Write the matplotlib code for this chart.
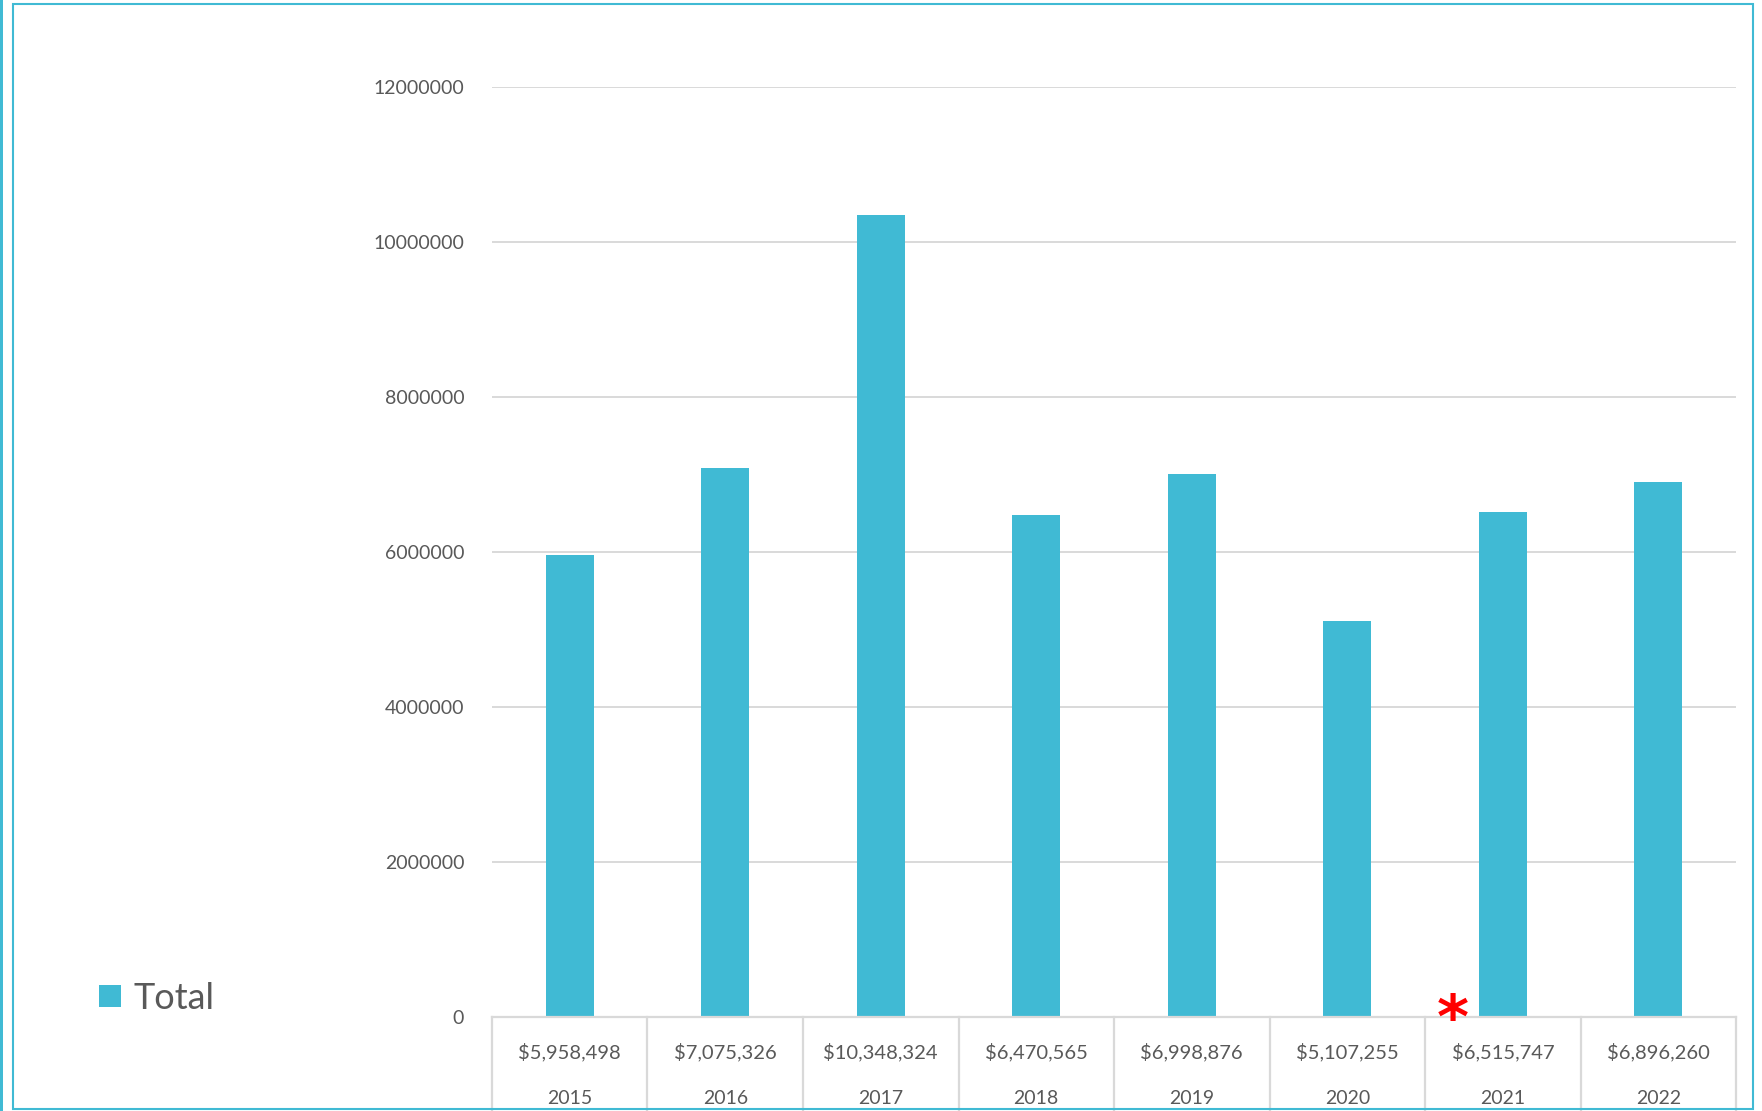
import matplotlib.pyplot as plt
from matplotlib.lines import Line2D
from matplotlib.patches import Rectangle
import matplotlib.transforms as mtransforms

plt.rcParams['font.family'] = ['Lato', 'DejaVu Sans']

# Data
years = ["2015", "2016", "2017", "2018", "2019", "2020", "2021", "2022"]
totals = [5958498, 7075326, 10348324, 6470565, 6998876, 5107255, 6515747, 6896260]
value_labels = ["$5,958,498", "$7,075,326", "$10,348,324", "$6,470,565",
                "$6,998,876", "$5,107,255", "$6,515,747", "$6,896,260"]
yticks = [0, 2000000, 4000000, 6000000, 8000000, 10000000, 12000000]

bar_color = "#40BAD4"
text_color = "#595959"
grid_color = "#D9D9D9"

fig = plt.figure(figsize=(17.62, 11.11), dpi=100)
ax = fig.add_axes([0.2792, 0.0846, 0.7061, 0.8374])

x = range(len(years))
bars = ax.bar(x, totals, width=0.31, color=bar_color, label="Total", zorder=3)

ax.set_xlim(-0.5, len(years) - 0.5)
ax.set_ylim(0, 12000000)
ax.set_yticks(yticks)
ax.set_yticklabels([str(v) for v in yticks])
ax.tick_params(axis="y", length=0, pad=20, labelsize=14, labelcolor=text_color)
ax.set_xticks([])
ax.grid(axis="y", color=grid_color, linewidth=1.4, zorder=0)
for s in ax.spines.values():
    s.set_visible(False)

# data table under the bars
trans = mtransforms.blended_transform_factory(ax.transData, fig.transFigure)
ax.axhline(0, color=grid_color, linewidth=1.6, zorder=4, clip_on=False)
for i in range(len(years) + 1):
    ax.add_line(Line2D([i - 0.5, i - 0.5], [0.0846, 0.0], transform=trans,
                       color=grid_color, linewidth=1.6, clip_on=False))
for i, (lab, yr) in enumerate(zip(value_labels, years)):
    ax.annotate(lab, (i, 0), xytext=(0, -35), textcoords="offset pixels",
                ha="center", va="center", fontsize=14.5, color=text_color,
                annotation_clip=False)
    ax.annotate(yr, (i, 0), xytext=(0, -81), textcoords="offset pixels",
                ha="center", va="center", fontsize=14, color=text_color,
                annotation_clip=False)

# red asterisk next to 2021
ax.annotate("*", (5.68, 0), xytext=(0, -4), textcoords="offset pixels",
            ha="center", va="center", fontsize=44, color="red",
            fontweight="bold", annotation_clip=False, family="DejaVu Sans",
            zorder=6)

# legend at lower left
ax.legend(handles=[bars], loc="center left", bbox_to_anchor=(0.038, 0.1015),
          bbox_transform=fig.transFigure, frameon=False, fontsize=26,
          labelcolor=text_color, handlelength=0.6, handleheight=0.6,
          handletextpad=0.35)

# chart border
fig.patches.append(Rectangle((13 / 1762, 2 / 1111), 1740 / 1762, 1105 / 1111,
                             transform=fig.transFigure, fill=False,
                             edgecolor=bar_color, linewidth=1.5))
fig.patches.append(Rectangle((0, 0), 3 / 1762, 1, transform=fig.transFigure,
                             color=bar_color, linewidth=0))

fig.savefig("out.png", dpi=100)
